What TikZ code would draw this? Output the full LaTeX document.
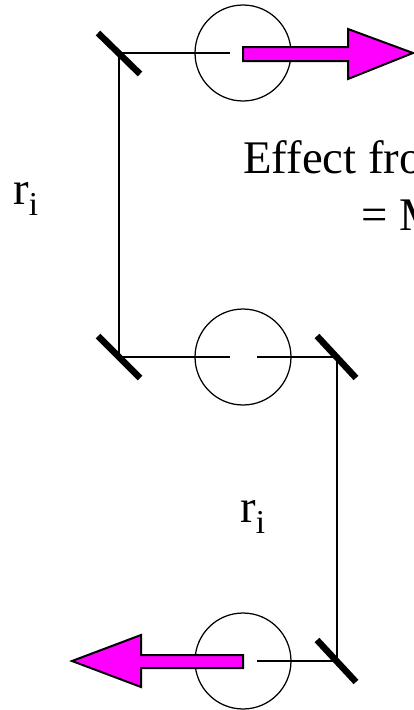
\documentclass[tikz,border=0pt]{standalone}
\usepackage{fontspec}
\setmainfont{Liberation Serif}
\usepackage{tikz}
\definecolor{ArrowMagenta}{RGB}{255, 0, 255}
\newcommand{\radlabel}{r\raisebox{-6.8pt}{\fontsize{19}{22}\selectfont i}}
\tikzset{every path/.style={line join=miter}}
\begin{document}
\begin{tikzpicture}[
    x=0.02cm, y=-0.02cm,
    beam/.style={draw, line width=0.04cm},
    orbit/.style={
        draw,
        circle,
        minimum size=1.92cm,
        inner sep=0pt,
        line width=0.025cm
    },
    mirror/.style={
        draw,
        line width=0.13cm
    },
    spin/.style={
        draw,
        fill=ArrowMagenta,
        line width=0.04cm
    },
    bigtext/.style={
        anchor=base west,
        inner sep=0pt,
        font=\fontsize{26.6}{30}\selectfont
    }
]
\useasboundingbox (0,0) rectangle (413,710);

\node[orbit] (top) at (243,53) {};
\node[orbit] (mid) at (243,357) {};
\node[orbit] (bot) at (243,661) {};

\coordinate (mtop) at (119,53);
\coordinate (mleft) at (119,357);
\coordinate (mright) at (337,357);
\coordinate (mbot) at (337,661);
\coordinate (endtop) at (230,53);
\coordinate (endleft) at (230,357);
\coordinate (endright) at (257,357);
\coordinate (endbot) at (257,661);

\draw[beam] (endtop) -- (mtop) -- (mleft) -- (endleft);
\draw[beam] (endright) -- (mright) -- (mbot) -- (endbot);

\draw[mirror] (98,33) -- (140,74);
\draw[mirror] (98,336) -- (140,378);
\draw[mirror] (317,336) -- (356,378);
\draw[mirror] (317,640) -- (356,682);

\draw[spin] (243,47) -- (348,47) -- (348,29) -- (413,53) -- (348,79) -- (348,61) -- (243,61) -- cycle;
\draw[spin] (243,655) -- (141,655) -- (141,635) -- (72,661) -- (141,687) -- (141,668) -- (243,668) -- cycle;

\node[bigtext] (effect) at (243,173) {Effect fro};
\node[bigtext] (equal) at (361,230) {= M};
\node[bigtext] (rleft) at (13,204) {\radlabel};
\node[bigtext] (rright) at (240,522) {\radlabel};
\end{tikzpicture}
\end{document}
